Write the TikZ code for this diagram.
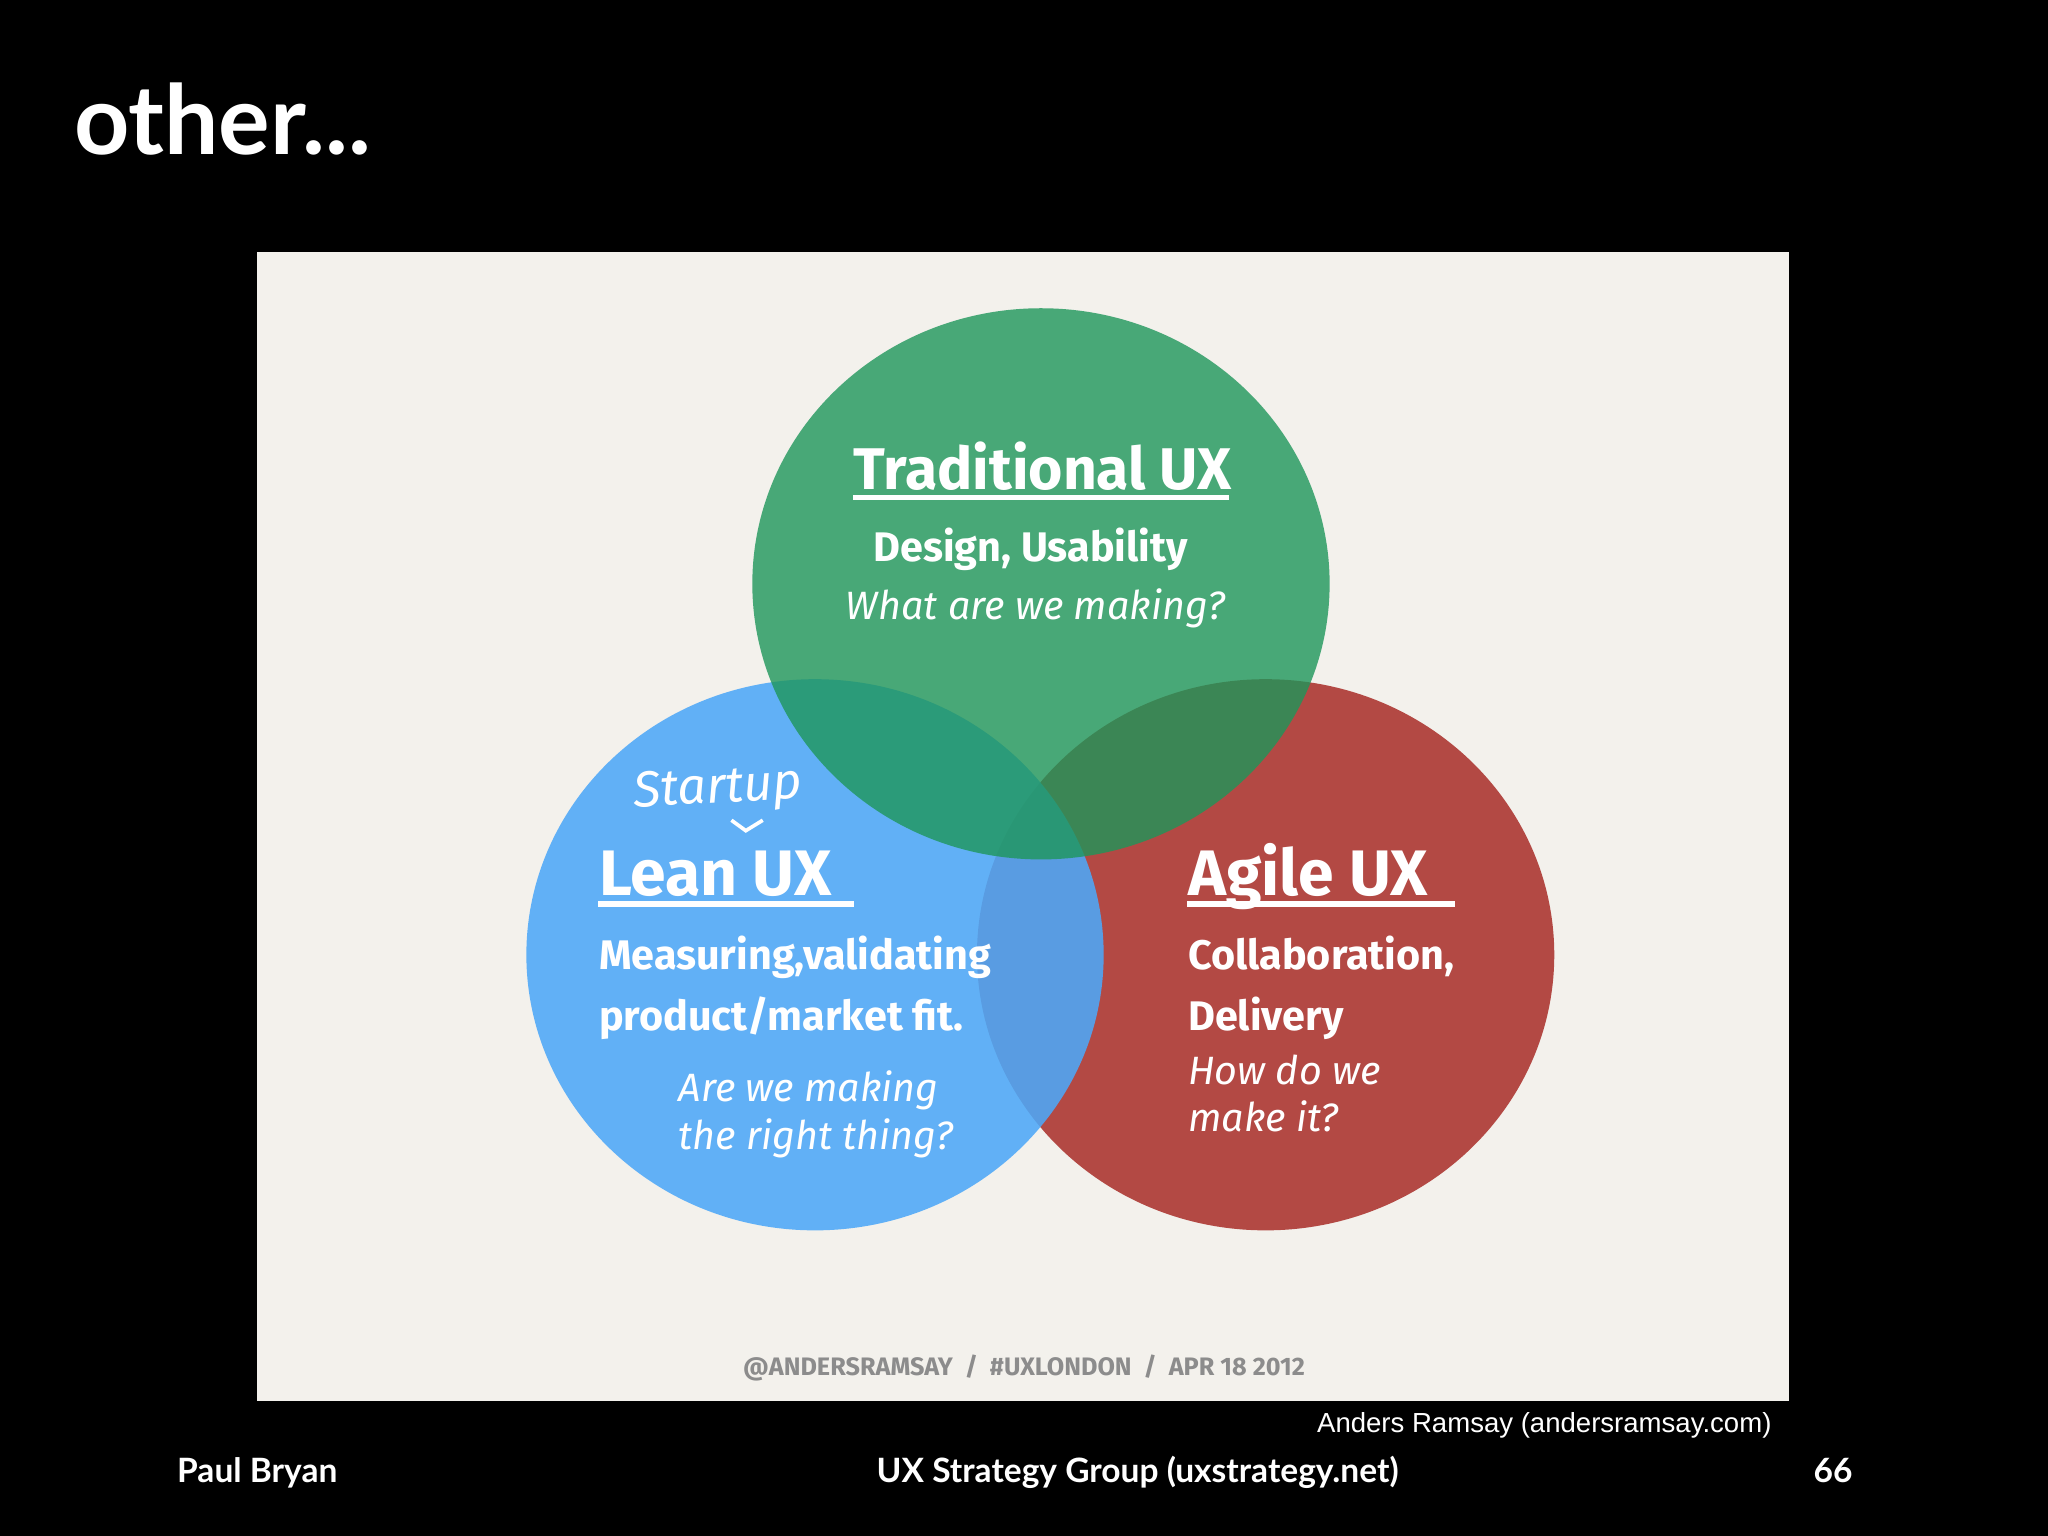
\documentclass[tikz,border=0pt]{standalone}
\usepackage{fontspec}
\setmainfont{Fira Sans}
\newfontfamily\lato{Lato}
\newfontfamily\arialf{Liberation Sans}
\definecolor{paper}{RGB}{243,241,236}
\definecolor{cred}{RGB}{176,65,59}
\definecolor{cblue}{RGB}{77,168,248}
\definecolor{cgreen}{RGB}{30,150,90}
\begin{document}
\begin{tikzpicture}[x=0.01cm,y=-0.01cm,
  ttl/.style={text=white,font=\bfseries\fontsize{12.8pt}{15pt}\selectfont,anchor=base west,inner sep=0},
  sub/.style={text=white,font=\bfseries\fontsize{9pt}{13.5pt}\selectfont,anchor=base west,inner sep=0},
  q/.style={text=white,font=\itshape\fontsize{8.6pt}{10.4pt}\selectfont,anchor=base west,inner sep=0},
  foot/.style={text=white,font=\lato\bfseries\fontsize{7.3pt}{9pt}\selectfont,anchor=base west,inner sep=0}]
\fill[black] (0,0) rectangle (1568,1176);
\useasboundingbox (0,0) rectangle (1568,1176);
\node[text=white,font=\lato\bfseries\fontsize{21pt}{24pt}\selectfont,anchor=base west,inner sep=0] (title) at (56,118) {other...};
\fill[paper] (197,193) rectangle (1370,1073);
\fill[cred,opacity=0.95] (969,731) ellipse [x radius=221, y radius=211];
\fill[cblue,opacity=0.88] (624,731) ellipse [x radius=221, y radius=211];
\fill[cgreen,opacity=0.8] (797,447) ellipse [x radius=221, y radius=211];
\node[ttl] (t1) at (653,375) {Traditional UX};
\draw[white,line width=1.2pt] (653,381) -- (941,381);
\node[sub] (s1) at (668,430) {Design, Usability};
\node[q] (q1) at (647,474) {What are we making?};
\node[ttl,font=\bfseries\fontsize{14pt}{15pt}\selectfont] (t2) at (458,686) {Lean UX};
\draw[white,line width=1.2pt] (458,692) -- (654,692);
\node[text=white,font=\itshape\fontsize{11pt}{12pt}\selectfont,anchor=base west,inner sep=0,rotate=3] (su) at (485,618) {Startup};
\draw[white,line width=0.8pt] (560,628) -- (571,636) -- (584,628);
\node[sub] (s2a) at (458,742) {Measuring,validating};
\node[sub] (s2b) at (458,789) {product/market fit.};
\node[q] (q2a) at (519,843) {Are we making};
\node[q] (q2b) at (519,880) {the right thing?};
\node[ttl,font=\bfseries\fontsize{14pt}{15pt}\selectfont] (t3) at (909,686) {Agile UX};
\draw[white,line width=1.2pt] (909,692) -- (1114,692);
\node[sub] (s3a) at (909,742) {Collaboration,};
\node[sub] (s3b) at (909,789) {Delivery};
\node[q] (q3a) at (909,830) {How do we};
\node[q] (q3b) at (909,866) {make it?};
\node[text=gray!90,font=\bfseries\fontsize{5.5pt}{7pt}\selectfont,anchor=base,inner sep=0] (tag) at (784,1053) {@ANDERSRAMSAY \ / \ \#UXLONDON \ / \ APR 18 2012};
\node[text=white,font=\arialf\fontsize{6pt}{7pt}\selectfont,anchor=base east,inner sep=0] (cr) at (1357,1097) {Anders Ramsay (andersramsay.com)};
\node[foot] (f1) at (135,1135) {Paul Bryan};
\node[foot,anchor=base] (f2) at (871,1135) {UX Strategy Group (uxstrategy.net)};
\node[foot,anchor=base east] (f3) at (1419,1135) {66};
\end{tikzpicture}
\end{document}
